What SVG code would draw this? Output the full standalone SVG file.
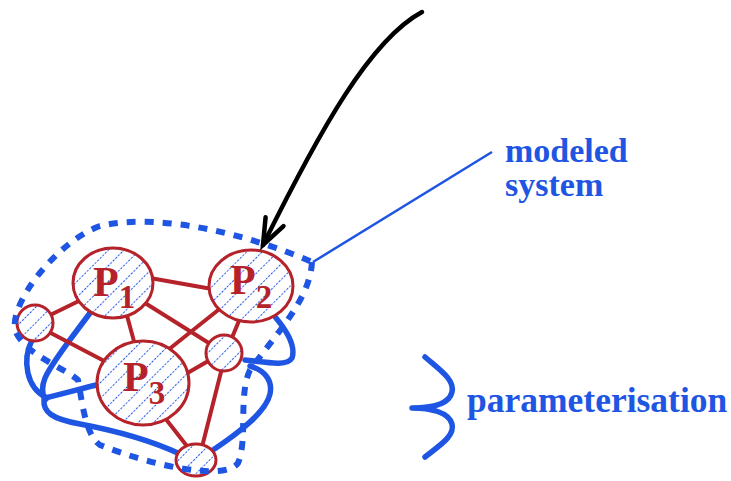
<svg xmlns="http://www.w3.org/2000/svg" width="731" height="481" viewBox="0 0 731 481">
<style>
.edge{stroke:#b5222a;stroke-width:4;fill:none;stroke-linecap:round}
.ring{fill:none;stroke:#b5222a;stroke-width:3}
.bg{fill:#ffffff}
.hat{fill:url(#hatch)}
.blue{stroke:#1f55e3;stroke-width:5.5;fill:none;stroke-linecap:round;stroke-linejoin:round}
.plabel{font-family:"Liberation Serif","Times New Roman",serif;font-weight:bold;font-size:42px;fill:#b5222a}
.sub{font-size:33px}
.btext{font-family:"Liberation Serif","Times New Roman",serif;font-weight:bold;font-size:34px;fill:#1f55e3}
.big{font-size:35.5px}
</style>
<defs>
<pattern id="hatch" patternUnits="userSpaceOnUse" width="11" height="11" patternTransform="rotate(45)">
<line x1="0" y1="0" x2="0" y2="11" stroke="#1f55e3" stroke-width="2" stroke-dasharray="2.2 1.5"/>
</pattern>
<marker id="arrow" markerUnits="userSpaceOnUse" orient="auto" refX="0" refY="0" markerWidth="60" markerHeight="60" viewBox="-30 -30 60 60" overflow="visible">
<path d="M -26,-10 L 0,0 L -26,10" fill="none" stroke="#000" stroke-width="4.5" stroke-linecap="round" stroke-linejoin="miter"/>
</marker>
</defs>

<g id="parameterisation-links">
<path class="blue" d="M 32,340 C 22,360 26,388 47,398"/>
<path class="blue" d="M 90,313 C 70,340 52,362 45,378 C 41,388 43,396 45,400"/>
<path class="blue" d="M 45,398 C 62,394 80,389 100,384"/>
<path class="blue" d="M 44,400 C 43,412 52,419 80,424 C 112,430 150,440 180,454"/>
<path class="blue" d="M 276,318 C 286,330 296,346 292,358 C 287,367 265,362 245,360"/>
<path class="blue" d="M 250,366 C 264,370 273,380 270,394 C 266,412 240,432 213,450"/>
</g>

<g id="connectors">
<line class="edge" x1="150" y1="278" x2="212" y2="289"/>
<line class="edge" x1="40" y1="320" x2="85" y2="298"/>
<line class="edge" x1="45" y1="330" x2="110" y2="364"/>
<line class="edge" x1="126" y1="312" x2="135" y2="345"/>
<line class="edge" x1="145" y1="303" x2="212" y2="345"/>
<line class="edge" x1="227" y1="303" x2="163" y2="354"/>
<line class="edge" x1="241" y1="316" x2="231" y2="340"/>
<line class="edge" x1="210" y1="360" x2="184" y2="375"/>
<line class="edge" x1="222" y1="368" x2="202" y2="447"/>
<line class="edge" x1="165" y1="418" x2="190" y2="450"/>
</g>

<g id="node-s-left">
<circle class="bg" cx="35" cy="323" r="18"/>
<circle class="hat" cx="35" cy="323" r="18"/>
<circle class="ring" cx="35" cy="323" r="18"/>
</g>
<g id="node-s-right">
<circle class="bg" cx="224" cy="353" r="18"/>
<circle class="hat" cx="224" cy="353" r="18"/>
<circle class="ring" cx="224" cy="353" r="18"/>
</g>
<g id="node-s-bottom">
<ellipse class="bg" cx="196" cy="460" rx="20" ry="16"/>
<ellipse class="hat" cx="196" cy="460" rx="20" ry="16"/>
<ellipse class="ring" cx="196" cy="460" rx="20" ry="16"/>
</g>
<g id="node-p1">
<ellipse class="bg" cx="113" cy="283" rx="40" ry="35"/>
<ellipse class="hat" cx="113" cy="283" rx="40" ry="35"/>
<ellipse class="ring" cx="113" cy="283" rx="40" ry="35"/>
<text class="plabel" x="93" y="296">P<tspan class="sub" dy="12">1</tspan></text>
</g>
<g id="node-p2">
<ellipse class="bg" cx="251" cy="286" rx="42" ry="36"/>
<ellipse class="hat" cx="251" cy="286" rx="42" ry="36"/>
<ellipse class="ring" cx="251" cy="286" rx="42" ry="36"/>
<text class="plabel" x="230" y="294">P<tspan class="sub" dy="14">2</tspan></text>
</g>
<g id="node-p3">
<ellipse class="bg" cx="143" cy="383" rx="46" ry="42"/>
<ellipse class="hat" cx="143" cy="383" rx="46" ry="42"/>
<ellipse class="ring" cx="143" cy="383" rx="46" ry="42"/>
<text class="plabel" x="123" y="391">P<tspan class="sub" dy="13">3</tspan></text>
</g>

<g id="boundary">
<path d="M 312,262 C 310,300 275,335 250,370 C 238,395 248,440 238,463 C 225,482 150,465 100,445 C 85,435 82,400 78,380 C 60,365 25,355 15,330 C 10,300 60,240 100,226 C 160,212 250,235 312,262 Z" fill="none" stroke="#1f55e3" stroke-width="6" stroke-dasharray="9 9"/>
</g>

<g id="modeled-system-label">
<line x1="313" y1="262" x2="492" y2="152" stroke="#1f55e3" stroke-width="2.5"/>
<text class="btext" x="505" y="162">modeled</text>
<text class="btext" x="505" y="196">system</text>
</g>

<g id="pointer-arrow">
<path d="M 422,12 C 370,40 320,130 263,245" fill="none" stroke="#000" stroke-width="4.5" stroke-linecap="round" marker-end="url(#arrow)"/>
</g>

<g id="parameterisation-label">
<path class="blue" stroke-width="6" d="M 425,357 C 440,370 455,380 452,392 C 449,405 430,408 412,408 C 430,408 449,412 452,424 C 455,436 440,445 425,457"/>
<text class="btext big" x="467" y="412">parameterisation</text>
</g>
</svg>
